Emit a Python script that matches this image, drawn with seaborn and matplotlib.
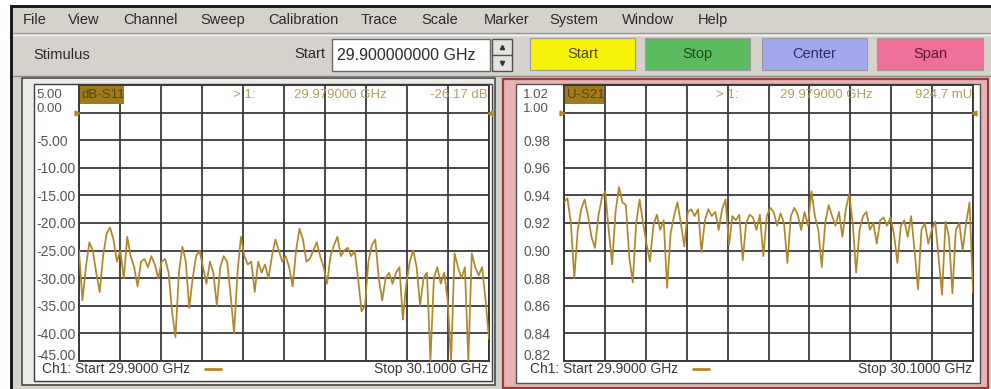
import numpy as np
import pandas as pd
import matplotlib
matplotlib.use("Agg")
import matplotlib.pyplot as plt
import matplotlib.transforms as mtransforms
from matplotlib.patches import Rectangle
import seaborn as sns

W, H = 991, 389

# ---------------- data ----------------
start_ghz, stop_ghz = 29.9, 30.1

s11_db = [-25, -34, -28, -23.5, -25, -29, -32.5, -26, -22, -20.8,
          -23, -27, -25, -30, -22.5, -26, -28, -31.5, -27, -26.5,
          -28, -26, -27.5, -30, -27, -26.5, -29, -36, -40.7, -29,
          -24.3, -27, -35.4, -30, -26, -25, -28, -31, -27, -29,
          -35, -28, -26, -27, -33, -40, -29, -22.5, -26, -27.5,
          -27, -32.5, -27, -29, -27.5, -30, -26, -23, -25, -27,
          -26, -28, -31.5, -25, -21, -23, -27, -26.5, -25, -23.5,
          -26, -28, -31, -26, -24, -22.5, -26, -25, -24.5, -26,
          -25, -30, -36, -35, -27, -24, -23, -30, -34, -30,
          -29, -31, -29, -28, -37.5, -31, -27, -25, -28, -35,
          -30, -29, -45, -30, -28, -31, -29, -34, -45, -25.5,
          -28, -30, -28, -45, -25.5, -28, -29.5, -28, -34, -41]

s21_u = [0.935, 0.938, 0.920, 0.880, 0.915, 0.930, 0.937, 0.925, 0.910, 0.902,
         0.925, 0.938, 0.943, 0.915, 0.890, 0.928, 0.946, 0.935, 0.933, 0.895,
         0.877, 0.920, 0.937, 0.920, 0.905, 0.892, 0.918, 0.926, 0.915, 0.922,
         0.873, 0.912, 0.925, 0.935, 0.920, 0.903, 0.928, 0.930, 0.925, 0.930,
         0.899, 0.922, 0.930, 0.925, 0.928, 0.915, 0.930, 0.937, 0.904, 0.925,
         0.922, 0.926, 0.893, 0.920, 0.926, 0.924, 0.915, 0.926, 0.896, 0.925,
         0.931, 0.928, 0.918, 0.927, 0.920, 0.891, 0.925, 0.931, 0.926, 0.915,
         0.928, 0.918, 0.943, 0.925, 0.915, 0.888, 0.920, 0.933, 0.925, 0.918,
         0.928, 0.910, 0.930, 0.941, 0.920, 0.884, 0.915, 0.925, 0.928, 0.915,
         0.920, 0.905, 0.922, 0.924, 0.918, 0.924, 0.912, 0.891, 0.918, 0.922,
         0.910, 0.925, 0.900, 0.872, 0.915, 0.920, 0.905, 0.915, 0.921, 0.895,
         0.868, 0.921, 0.910, 0.869, 0.915, 0.920, 0.900, 0.920, 0.935, 0.869]

s11_ticks = [5, 0, -5, -10, -15, -20, -25, -30, -35, -40, -45]
s11_labels = ["5.00", "0.00", "-5.00", "-10.00", "-15.00", "-20.00",
              "-25.00", "-30.00", "-35.00", "-40.00", "-45.00"]
s21_ticks = [1.02, 1.00, 0.98, 0.96, 0.94, 0.92, 0.90, 0.88, 0.86, 0.84, 0.82]
s21_labels = ["1.02", "1.00", "0.98", "0.96", "0.94", "0.92",
              "0.90", "0.88", "0.86", "0.84", "0.82"]

menu_items = ["File", "View", "Channel", "Sweep", "Calibration", "Trace",
              "Scale", "Marker", "System", "Window", "Help"]
menu_cx = [35, 84, 150, 223, 303, 379, 440, 507, 574, 648, 713]

buttons = ["Start", "Stop", "Center", "Span"]
button_x = [(530, 635), (645, 750), (762, 867), (877, 983)]
button_face = ["#f6f20a", "#5dbb5f", "#a3a8ee", "#ee6f98"]
button_text = ["#4a4a10", "#1e4a1e", "#2a2e60", "#5a1a2c"]

trace_names = ["dB-S11", "U-S21"]
marker_freq = "29.979000 GHz"
marker_vals = ["-26.17 dB", "924.7 mU"]
start_label = "Ch1: Start 29.9000 GHz"
stop_label = "Stop 30.1000 GHz"
stimulus_value = "29.900000000 GHz"

# ---------------- style ----------------
sns.set_theme(style="white")
plt.rcParams["font.family"] = ["Liberation Sans", "DejaVu Sans"]

GUI = "#d5d2cc"
GRID = "#3a3a3a"
TRACE = "#b0872a"
TICKC = "#555555"
MARKC = "#b59f5e"

fig = plt.figure(figsize=(W / 100, H / 100), dpi=100)


def fr(x0, y0, x1, y1):
    return [x0 / W, 1 - y1 / H, (x1 - x0) / W, (y1 - y0) / H]


bg = fig.add_axes([0, 0, 1, 1], zorder=0)
bg.set_xlim(0, W)
bg.set_ylim(H, 0)
bg.axis("off")


def rect(ax, x0, y0, x1, y1, fc, ec="none", lw=0.0, z=1):
    ax.add_patch(Rectangle((x0, y0), x1 - x0, y1 - y0, facecolor=fc,
                           edgecolor=ec, linewidth=lw, zorder=z))


# window chrome
rect(bg, 0, 0, W, H, "white")
rect(bg, 10, 5, W, H, "#1c1c1c")
rect(bg, 13, 8, W, H, GUI)
bg.plot([13, W], [33, 33], color="#9a9a9a", lw=1, zorder=2)
bg.plot([13, W], [34.5, 34.5], color="#f4f4f4", lw=1, zorder=2)
bg.plot([13, W], [76, 76], color="#8a8a8a", lw=1, zorder=2)

for name, cx in zip(menu_items, menu_cx):
    bg.text(cx, 20, name, ha="center", va="center", fontsize=10.5,
            color="#2a2a2a", zorder=3)

bg.text(33, 55, "Stimulus", ha="left", va="center", fontsize=10.5,
        color="#2a2a2a", zorder=3)
bg.text(325, 54, "Start", ha="right", va="center", fontsize=10.5,
        color="#2a2a2a", zorder=3)
rect(bg, 332, 39, 490, 71, "white", "#6a6a6a", 1.0, 2)
bg.text(337, 55, stimulus_value, ha="left", va="center", fontsize=11.5,
        color="#2a2a2a", zorder=3)
rect(bg, 492, 39, 512, 71, "#e4e2de", "#505050", 1.0, 2)
bg.plot([492, 512], [55, 55], color="#505050", lw=1, zorder=3)
bg.plot([502], [47], marker="^", ms=3, color="#333333", zorder=3)
bg.plot([502], [63], marker="v", ms=3, color="#333333", zorder=3)

for lab, (x0, x1), fc, tc in zip(buttons, button_x, button_face, button_text):
    rect(bg, x0, 38, x1, 70, fc, "#9a9a9a", 0.8, 2)
    bg.text((x0 + x1) / 2, 54, lab, ha="center", va="center", fontsize=10.5,
            color=tc, zorder=3)

# left panel
rect(bg, 22, 78, 495, 385, "#ecebe8", "#4a4a4a", 1.2, 1)
rect(bg, 34, 84, 492, 381, "white", "#3c3c3c", 1.0, 2)
# right panel (active, red frame)
rect(bg, 503, 79, 988, 388, "#e6b4b4", "#9c3a3a", 1.6, 1)
rect(bg, 516, 84, 980, 383, "white", "#505050", 1.0, 2)

# ---------------- plots ----------------
df1 = pd.DataFrame({"freq": np.linspace(start_ghz, stop_ghz, len(s11_db)),
                    "val": s11_db})
df2 = pd.DataFrame({"freq": np.linspace(start_ghz, stop_ghz, len(s21_u)),
                    "val": s21_u})

ax1 = fig.add_axes(fr(79, 85, 489, 361), zorder=2)
ax2 = fig.add_axes(fr(564, 85, 973, 361), zorder=2)

setups = [(ax1, df1, s11_ticks, s11_labels, (-45, 5), 36 - 79),
          (ax2, df2, s21_ticks, s21_labels, (0.82, 1.02), 523 - 564)]

for ax, df, ticks, labels, ylim, off in setups:
    sns.lineplot(data=df, x="freq", y="val", ax=ax, color=TRACE,
                 linewidth=1.25, zorder=3)
    ax.set_facecolor("white")
    ax.set_xlim(start_ghz, stop_ghz)
    ax.set_ylim(*ylim)
    ax.set_xticks(np.linspace(start_ghz, stop_ghz, 11))
    ax.set_xticklabels([])
    ax.set_yticks(ticks)
    ax.set_yticklabels(labels, ha="left")
    ax.tick_params(axis="y", pad=-off * 0.72, length=0, labelsize=10,
                   labelcolor=TICKC)
    ax.tick_params(axis="x", length=0)
    ax.set_xlabel("")
    ax.set_ylabel("")
    ax.grid(True, color=GRID, linewidth=1.3)
    ax.set_axisbelow(True)
    for sp in ax.spines.values():
        sp.set_color(GRID)
        sp.set_linewidth(1.4)
    shifts = {0: -9, 1: 5, 10: 6}
    for i, tk in enumerate(ax.yaxis.get_major_ticks()):
        if i in shifts:
            lbl = tk.label1
            if i in (0, 1):
                lbl.set_fontsize(9.5)
            lbl.set_transform(lbl.get_transform() +
                              mtransforms.ScaledTranslation(0, shifts[i] / 100,
                                                            fig.dpi_scale_trans))

# ---------------- overlay: headers, readouts, footers ----------------
fg = fig.add_axes([0, 0, 1, 1], zorder=5)
fg.set_xlim(0, W)
fg.set_ylim(H, 0)
fg.axis("off")
fg.patch.set_alpha(0)

panels = [(79, 489, 124, 233, 340, 488, 42, 205), (564, 973, 604, 716, 826, 972, 530, 693)]
for (x0, x1, bx, mx, fx, vx, sx, dx), name, val in zip(panels, trace_names, marker_vals):
    rect(fg, x0 + 1, 86, bx, 104, "#9f7a1c", z=2)
    fg.text(x0 + 3, 95, name, ha="left", va="center", fontsize=9.5,
            color="#5c4210", zorder=3)
    fg.text(mx, 95, "> 1:", ha="left", va="center", fontsize=9.5,
            color=MARKC, zorder=3)
    fg.text(fx, 95, marker_freq, ha="center", va="center", fontsize=9.5,
            color=MARKC, zorder=3)
    fg.text(vx, 95, val, ha="right", va="center", fontsize=9.5,
            color=MARKC, zorder=3)
    fg.plot([x0 - 2], [113], marker=">", ms=3.5, color=TRACE, zorder=3)
    fg.plot([x1 + 1], [113], marker="<", ms=3.5, color=TRACE, zorder=3)
    fg.text(sx, 369, start_label, ha="left", va="center", fontsize=10,
            color="#3a3a3a", zorder=3)
    fg.plot([dx, dx + 16], [369, 369], color=TRACE, lw=2, zorder=3)
    fg.text(x1 - 1, 369, stop_label, ha="right", va="center", fontsize=10,
            color="#3a3a3a", zorder=3)

fig.savefig("out.png", dpi=100)
